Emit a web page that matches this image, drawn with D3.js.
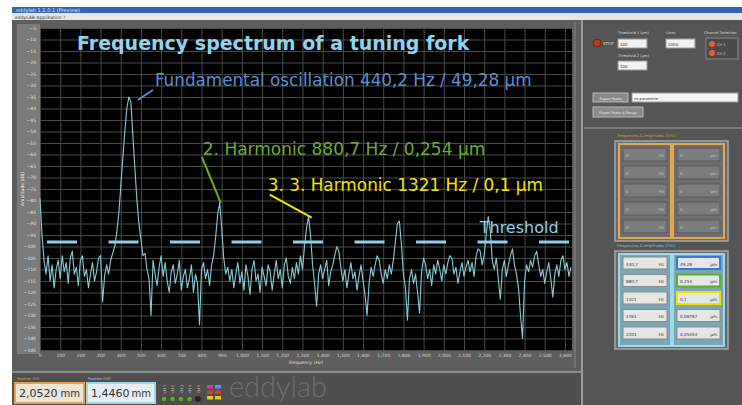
<!DOCTYPE html>
<html>
<head>
<meta charset="utf-8">
<script src="https://cdn.jsdelivr.net/npm/d3@7/dist/d3.min.js"></script>
<style>
  body { margin: 0; background: #fff; }
  svg { display: block; }
</style>
</head>
<body>
<script>
// spectrum, one value per 10 Hz bin (dB)
var freqStepHz = 10;
var amplitudeDb = [
  -79, -95, -106, -112, -104, -115, -108, -118, -110, -106,
  -114, -104, -111, -107, -116, -105, -102, -112, -109, -117,
  -106, -104, -113, -110, -118, -112, -107, -115, -111, -105,
  -104, -124, -113, -108, -112, -106, -103, -100, -94, -86,
  -74, -62, -50, -40, -35, -37, -52, -66, -80, -90,
  -97, -104, -103, -110, -114, -130, -106, -112, -117, -109,
  -104, -113, -107, -115, -120, -111, -108, -116, -112, -106,
  -119, -113, -110, -118, -114, -108, -120, -112, -116, -134,
  -110, -107, -114, -110, -117, -108, -104, -96, -86, -81,
  -92, -105, -112, -109, -115, -110, -118, -112, -107, -116,
  -111, -119, -108, -113, -121, -110, -106, -115, -112, -120,
  -109, -113, -117, -108, -111, -119, -112, -106, -114, -110,
  -118, -108, -105, -113, -116, -109, -114, -107, -112, -104,
  -110, -100, -92, -87, -95, -108, -116, -126, -112, -108,
  -114, -110, -106, -117, -111, -108, -104, -100, -102, -109,
  -115, -110, -118, -112, -107, -114, -111, -119, -113, -108,
  -115, -121, -130, -116, -109, -113, -108, -104, -106, -112,
  -116, -110, -114, -108, -112, -106, -98, -90, -89, -99,
  -112, -118, -132, -114, -110, -116, -112, -120, -129, -111,
  -105, -108, -114, -110, -117, -108, -112, -106, -110, -115,
  -108, -112, -107, -104, -105, -112, -109, -116, -111, -107,
  -113, -109, -106, -111, -107, -113, -104, -101, -102, -108,
  -104, -95, -87, -93, -106, -110, -105, -114, -123, -110,
  -106, -113, -108, -104, -101, -108, -112, -118, -130, -140,
  -115, -108, -111, -106, -109, -104, -102, -108, -113, -110,
  -116, -111, -107, -114, -122, -112, -108, -113, -106, -104,
  -110, -107, -113, -109
];
var thresholdDb = -98;

var xTicks = [0, 100, 200, 300, 400, 500, 600, 700, 800, 900, 1000, 1100, 1200, 1300,
              1400, 1500, 1600, 1700, 1800, 1900, 2000, 2100, 2200, 2300, 2400, 2500, 2600];
var yTicks = [-5, -10, -15, -20, -25, -30, -35, -40, -45, -50, -55, -60, -65, -70, -75,
              -80, -85, -90, -95, -100, -105, -110, -115, -120, -125, -130, -135, -140, -145];

var peakFreqs = [440.2, 880.7, 1321];
var peakDb = [-35, -81, -87];
var peakLabels = ["Fundamental oscillation 440,2 Hz / 49,28 µm",
                  "2. Harmonic 880,7 Hz / 0,254 µm",
                  "3. 3. Harmonic 1321 Hz / 0,1 µm"];

var ch1Freq = ["0", "0", "0", "0", "0"];
var ch1Amp = ["0", "0", "0", "0", "0"];
var ch2Freq = ["440,2", "880,7", "1321", "1761", "2201"];
var ch2Amp = ["49,28", "0,254", "0,1", "0,08787", "0,05454"];

var positions = ["2,0520", "1,4460"];

// layout
var W = 742, H = 405;
var plot = {left: 40, right: 572, top: 28, bottom: 350};
var labelColors = ["#5b8ed2", "#6cae2c", "#f2e600"];
var labelSizes = [16.8, 17, 16.9];
// label offsets from the peak: [line x1,y1,x2,y2, text x,y]
var labelOffsets = [[9, 3, 24, -7, 26, -11], [3, 0, -16, -46, -15, -48], [5, 1, -37, -22, -39, -26]];

var svg = d3.select("body").append("svg")
    .attr("width", W)
    .attr("height", H)
    .style("font-family", "DejaVu Sans");

// window chrome
svg.append("rect").attr("x", 12).attr("y", 7).attr("width", W - 12).attr("height", 6).attr("fill", "#3566b4");
svg.append("text").attr("x", 16).attr("y", 12).attr("font-size", 5).attr("fill", "#dfe8f5").text("eddylab 1.2.0.1 (Preview)");
svg.append("rect").attr("x", 12).attr("y", 13).attr("width", W - 12).attr("height", 7).attr("fill", "#e6e6e6");
svg.append("text").attr("x", 15).attr("y", 18.5).attr("font-size", 4.5).attr("fill", "#333").text("eddyLAB    Applikation    ?");

// panels
svg.append("rect").attr("x", 12).attr("y", 20).attr("width", 570).attr("height", 352).attr("fill", "#5e5e5e");
svg.append("rect").attr("x", 17).attr("y", 24).attr("width", 23).attr("height", 330).attr("fill", "#7a7a7a");
svg.append("rect").attr("x", 12).attr("y", 372).attr("width", 570).attr("height", 33).attr("fill", "#4f4f4f");
svg.append("line").attr("x1", 12).attr("x2", 582).attr("y1", 372).attr("y2", 372).attr("stroke", "#a0a0a0").attr("stroke-width", 1.5);
svg.append("rect").attr("x", 582).attr("y", 20).attr("width", W - 582).attr("height", H - 20).attr("fill", "#555");
svg.append("line").attr("x1", 582).attr("x2", 582).attr("y1", 20).attr("y2", H).attr("stroke", "#9a9a9a").attr("stroke-width", 2);
svg.append("line").attr("x1", 575).attr("x2", 575).attr("y1", 22).attr("y2", 368).attr("stroke", "#858585").attr("stroke-width", 1);

// plot area
var x = d3.scaleLinear().domain([0, 2635]).range([plot.left, plot.right]);
var y = d3.scaleLinear().domain([-145, -5]).range([plot.bottom, plot.top]);

svg.append("rect")
    .attr("x", plot.left).attr("y", plot.top)
    .attr("width", plot.right - plot.left).attr("height", plot.bottom - plot.top)
    .attr("fill", "#000");

var xGrid = svg.append("g")
    .attr("transform", "translate(0," + plot.bottom + ")")
    .call(d3.axisBottom(x).tickValues(xTicks).tickSize(-(plot.bottom - plot.top)).tickFormat(""));
var yGrid = svg.append("g")
    .attr("transform", "translate(" + plot.left + ",0)")
    .call(d3.axisLeft(y).tickValues(yTicks).tickSize(-(plot.right - plot.left)).tickFormat(""));
[xGrid, yGrid].forEach(function(g){
  g.select(".domain").remove();
  g.selectAll(".tick line").attr("stroke", "#4a4a4a").attr("stroke-width", 1);
});

// tick labels
var xAxis = svg.append("g")
    .attr("transform", "translate(0," + (plot.bottom + 1) + ")")
    .call(d3.axisBottom(x).tickValues(xTicks).tickSize(0).tickPadding(3));
xAxis.select(".domain").remove();
xAxis.selectAll("text").attr("font-size", 4.5).attr("fill", "#d8d8d8").attr("font-family", "DejaVu Sans");

var yAxis = svg.append("g")
    .attr("transform", "translate(" + (plot.left - 1) + ",0)")
    .call(d3.axisLeft(y).tickValues(yTicks).tickSize(0).tickPadding(3));
yAxis.select(".domain").remove();
yAxis.selectAll("text").attr("font-size", 4.5).attr("fill", "#e6e6e6").attr("font-family", "DejaVu Sans");

svg.append("text")
    .attr("x", (plot.left + plot.right) / 2).attr("y", plot.bottom + 14)
    .attr("text-anchor", "middle").attr("font-size", 4.5).attr("fill", "#e0e0e0")
    .text("Frequency (Hz)");
svg.append("text")
    .attr("transform", "translate(24," + ((plot.top + plot.bottom) / 2) + ") rotate(-90)")
    .attr("text-anchor", "middle").attr("font-size", 4.5).attr("fill", "#f0f0f0")
    .text("Amplitude (dB)");

// threshold
svg.append("line")
    .attr("x1", plot.left + 7).attr("x2", plot.right)
    .attr("y1", y(thresholdDb)).attr("y2", y(thresholdDb))
    .attr("stroke", "#8fd0ee").attr("stroke-width", 3)
    .attr("stroke-dasharray", "30,31.5");

// spectrum line
var line = d3.line()
    .x(function(d, i){ return x(i * freqStepHz); })
    .y(function(d){ return y(d); });

svg.append("path")
    .datum(amplitudeDb)
    .attr("d", line)
    .attr("fill", "none")
    .attr("stroke", "#88cdd6")
    .attr("stroke-width", 1.1)
    .attr("stroke-linejoin", "round");

// title and annotations
svg.append("text")
    .attr("x", 77).attr("y", 50)
    .attr("font-size", 19).attr("font-weight", "bold").attr("fill", "#8ed3f4")
    .text("Frequency spectrum of a tuning fork");

peakLabels.forEach(function(label, i){
  var px = x(peakFreqs[i]), py = y(peakDb[i]), o = labelOffsets[i];
  svg.append("line")
      .attr("x1", px + o[0]).attr("y1", py + o[1])
      .attr("x2", px + o[2]).attr("y2", py + o[3])
      .attr("stroke", labelColors[i]).attr("stroke-width", 2);
  svg.append("text")
      .attr("x", px + o[4]).attr("y", py + o[5])
      .attr("font-size", labelSizes[i]).attr("fill", labelColors[i])
      .text(label);
});

svg.append("text")
    .attr("x", x(2178)).attr("y", y(thresholdDb) - 9)
    .attr("font-size", 16).attr("fill", "#8fd0ee")
    .text("Threshold");

// right control panel
function box(px, py, w, h, fill, stroke, sw){
  return svg.append("rect").attr("x", px).attr("y", py).attr("width", w).attr("height", h)
      .attr("fill", fill).attr("stroke", stroke || "none").attr("stroke-width", sw || 1);
}
function label(px, py, t, size, fill, anchor){
  return svg.append("text").attr("x", px).attr("y", py).attr("font-size", size)
      .attr("fill", fill).attr("text-anchor", anchor || "start").text(t);
}

svg.append("circle").attr("cx", 597).attr("cy", 43).attr("r", 4).attr("fill", "#b0401c").attr("stroke", "#6a2a10");
label(603, 45, "STOP", 4, "#ddd");
label(618, 34, "Threshold 1 (µm)", 3.6, "#ddd");
box(618, 39, 29, 9, "#f2f2f2", "#999");
label(620, 45.5, "100", 4, "#333");
label(666, 34, "Lines", 3.6, "#ddd");
box(666, 39, 29, 9, "#f2f2f2", "#999");
label(668, 45.5, "2000", 4, "#333");
label(618, 57, "Threshold 2 (µm)", 3.6, "#ddd");
box(618, 61, 29, 9, "#f2f2f2", "#999");
label(620, 67.5, "100", 4, "#333");
label(704, 34, "Channel Selection", 3.6, "#ddd");
box(706, 38, 32, 21, "#4a4a4a", "#888");
svg.append("circle").attr("cx", 712).attr("cy", 44).attr("r", 3).attr("fill", "#e8602a");
svg.append("circle").attr("cx", 712).attr("cy", 53).attr("r", 3).attr("fill", "#e8602a");
label(717, 45.5, "CH 1", 3.6, "#ddd");
label(717, 54.5, "CH 2", 3.6, "#ddd");

box(593, 93, 35, 9, "#8a8a8a", "#bbb");
label(610.5, 99.5, "Export Peaks", 3.4, "#eee", "middle");
box(632, 93, 106, 9, "#f4f4f4", "#999");
label(634, 99.5, "no parameter", 3.6, "#333");
box(593, 107, 50, 10, "#8a8a8a", "#bbb");
label(618, 113.5, "Export Peaks & Range", 3.4, "#eee", "middle");
svg.append("line").attr("x1", 584).attr("x2", W).attr("y1", 128).attr("y2", 128).attr("stroke", "#8a8a8a").attr("stroke-width", 1.5);

// CH1 table
label(617, 137, "Frequencies & Amplitudes (CH1)", 3.6, "#e89a40");
box(615, 141, 113, 100, "#6a6a6a", "#a8a8a8", 1.5);
box(619, 144, 52, 94, "#6e6e6e", "#e8a450", 2);
box(673, 144, 51, 94, "#6e6e6e", "#e8a450", 2);
ch1Freq.forEach(function(v, i){
  var ry = 148 + i * 18;
  box(623, ry, 44, 13, "#7c7c7c", "#5a5a5a");
  label(626, ry + 9, v, 4, "#ccc");
  label(664, ry + 9, "Hz", 4, "#ccc", "end");
  box(677, ry, 43, 13, "#7c7c7c", "#5a5a5a");
  label(680, ry + 9, ch1Amp[i], 4, "#ccc");
  label(717, ry + 9, "µm", 4, "#ccc", "end");
});

// CH2 table
label(617, 247, "Frequencies & Amplitudes (CH2)", 3.6, "#7cc6e0");
box(615, 251, 113, 98, "#6a6a6a", "#a8a8a8", 1.5);
box(619, 254, 52, 92, "#7aa7b4", "#9fd6e8", 2);
box(673, 254, 51, 92, "#7aa7b4", "#9fd6e8", 2);
var ampBorders = ["#3a78d8", "#5aae2c", "#f2e200", "#8a8a8a", "#8a8a8a"];
ch2Freq.forEach(function(v, i){
  var ry = 257 + i * 17.5;
  box(623, ry, 44, 12, "#e6e6e6", "#8a8a8a");
  label(626, ry + 8.5, v, 4.2, "#333");
  label(664, ry + 8.5, "Hz", 4.2, "#333", "end");
  box(677, ry, 43, 12, "#e6e6e6", ampBorders[i], i < 3 ? 2 : 1);
  label(680, ry + 8.5, ch2Amp[i], 4.2, "#333");
  label(717, ry + 8.5, "µm", 4.2, "#333", "end");
});

// bottom strip: positions
label(17, 380, "Position CH1", 3.6, "#e8a050");
box(15, 383, 69, 20, "#ece4d6", "#e8a050", 2);
label(19, 397, positions[0], 11, "#333");
label(80, 397, "mm", 10, "#333", "end");
label(88, 380, "Position CH2", 3.6, "#8fd0ee");
box(87, 383, 68, 20, "#e6eef1", "#9fd6e8", 2);
label(91, 397, positions[1], 11, "#333");
label(151, 397, "mm", 10, "#333", "end");

var ledColors = ["#5cb030", "#5cb030", "#5cb030", "#5cb030", "#3a1a1a"];
ledColors.forEach(function(c, i){
  var lx = 164 + i * 8.5;
  svg.append("text")
      .attr("transform", "translate(" + (lx + 1.5) + ",393) rotate(-90)")
      .attr("font-size", 3.4).attr("fill", "#ccc").text("CH " + (i + 1));
  svg.append("circle").attr("cx", lx).attr("cy", 399).attr("r", 2.8)
      .attr("fill", c).attr("stroke", "#2a2a2a").attr("stroke-width", 0.6);
});

var swatchColors = [["#c83cc0", "#4aa0e8"], ["#e03434", "#e03434"], ["#e8c420", "#e8c420"]];
swatchColors.forEach(function(row, r){
  row.forEach(function(c, k){
    box(207 + k * 8, 385 + r * 5.5, 6, 3.5, c);
  });
});
svg.append("text")
    .attr("x", 229).attr("y", 397)
    .attr("font-family", "Lato").attr("font-weight", 300)
    .attr("font-size", 29).attr("fill", "#6e6e6e")
    .text("eddylab");
</script>
</body>
</html>
